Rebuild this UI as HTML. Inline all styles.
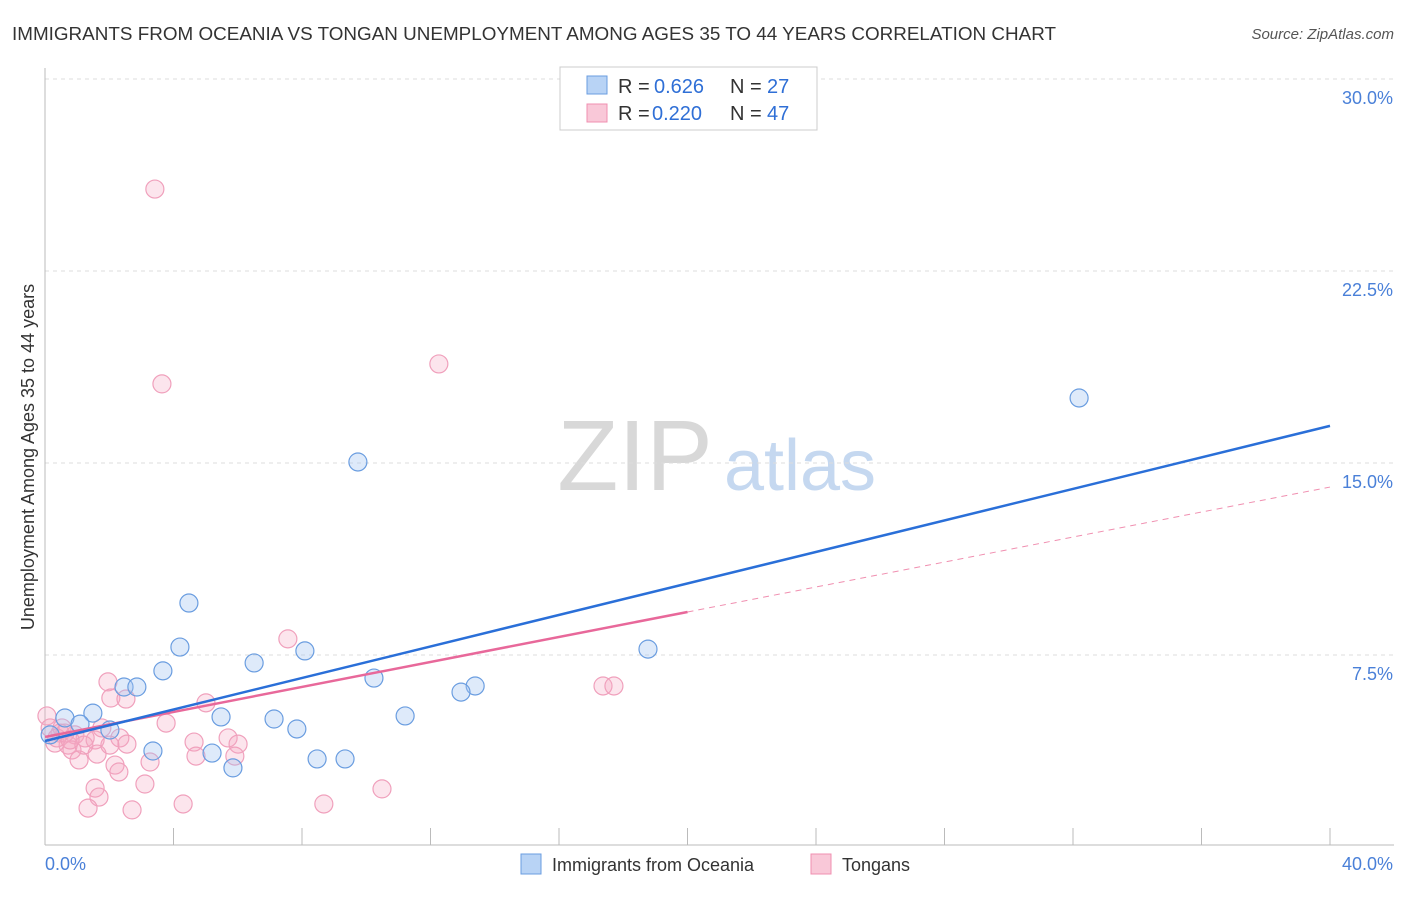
<!DOCTYPE html>
<html><head><meta charset="utf-8"><style>
body{margin:0;background:#fff;font-family:"Liberation Sans",sans-serif;}
svg text{font-family:"Liberation Sans",sans-serif;}
</style></head><body>
<svg id="c" width="1406" height="892">
<text x="12" y="40" font-size="18" fill="#333" textLength="1044" lengthAdjust="spacingAndGlyphs">IMMIGRANTS FROM OCEANIA VS TONGAN UNEMPLOYMENT AMONG AGES 35 TO 44 YEARS CORRELATION CHART</text>
<text x="1394" y="39" font-size="15" fill="#555" font-style="italic" text-anchor="end">Source: ZipAtlas.com</text>
<text x="635" y="490" font-size="100" fill="#d8d8d8" font-family="Liberation Serif" text-anchor="middle">ZIP</text>
<text x="800" y="490" font-size="72" fill="#c5d8f0" text-anchor="middle">atlas</text>
<text transform="translate(34,457) rotate(-90)" font-size="18" fill="#333" text-anchor="middle">Unemployment Among Ages 35 to 44 years</text>
<g id="grid"></g><g id="marks"></g>
<g>
<rect x="560" y="67" width="257" height="63" fill="#fff" stroke="#ccc"/>
<rect x="587" y="76" width="20" height="18" fill="#b8d3f5" stroke="#6a9de0"/>
<rect x="587" y="104" width="20" height="18" fill="#f9c8d8" stroke="#f08fb0"/>
<text x="618" y="93" font-size="20" fill="#333">R = </text><text x="654" y="93" font-size="20" fill="#2f6fd6">0.626</text>
<text x="730" y="93" font-size="20" fill="#333">N = </text><text x="767" y="93" font-size="20" fill="#2f6fd6">27</text>
<text x="618" y="120" font-size="20" fill="#333">R = </text><text x="652" y="120" font-size="20" fill="#2f6fd6">0.220</text>
<text x="730" y="120" font-size="20" fill="#333">N = </text><text x="767" y="120" font-size="20" fill="#2f6fd6">47</text>
</g>
<g>
<rect x="521" y="854" width="20" height="20" fill="#b8d3f5" stroke="#6a9de0"/>
<text x="552" y="871" font-size="18" fill="#333">Immigrants from Oceania</text>
<rect x="811" y="854" width="20" height="20" fill="#f9c8d8" stroke="#f08fb0"/>
<text x="842" y="871" font-size="18" fill="#333">Tongans</text>
</g>
</svg>
<script>
const yTicks=[7.5,15,22.5,30];
const yTickLabels=["7.5%","15.0%","22.5%","30.0%"];
const xEndLabels=["0.0%","40.0%"];
const blueX=[32.19,9.74,4.48,4.20,8.09,3.67,6.51,18.77,10.24,13.39,12.95,2.46,2.86,1.49,0.62,1.09,2.02,5.48,7.13,7.84,11.21,3.36,5.20,5.85,8.47,9.34,0.16];
const blueY=[17.54,15.04,9.53,7.81,7.66,6.88,7.19,7.73,6.60,6.29,6.05,6.25,6.25,5.23,5.04,4.80,4.57,5.08,5.00,4.61,5.12,3.75,3.67,3.09,3.44,3.44,4.38];
const pinkX=[3.42,3.64,12.26,7.56,1.96,2.05,2.52,5.01,3.77,17.37,17.71,0.06,0.16,0.47,0.93,1.25,1.77,1.56,0.72,0.84,1.06,1.62,2.33,2.55,4.64,5.70,6.01,4.70,5.91,2.18,3.27,2.30,3.11,1.56,1.68,1.34,2.71,4.30,8.68,10.49,0.31,0.53,0.37,1.21,0.62,2.02,0.78];
const pinkY=[25.70,18.09,18.87,8.13,6.45,5.82,5.78,5.63,4.84,6.29,6.29,5.12,4.65,4.45,4.38,4.26,4.65,4.18,3.98,3.79,3.40,3.63,4.26,4.02,4.10,4.26,4.02,3.55,3.55,3.20,3.32,2.93,2.46,2.30,1.95,1.52,1.45,1.68,1.68,2.27,4.06,4.65,4.26,3.98,4.45,3.98,4.18];
const blueLine=[4.14,16.45];
const pinkLine=[4.30,14.06];
const pinkSolidEnd=20;
const X=v=>45+v*1285/40, Y=v=>847-v*25.6;
const NS="http://www.w3.org/2000/svg";
const grid=document.getElementById('grid'), marks=document.getElementById('marks');
function mk(tag,attrs,parent){const e=document.createElementNS(NS,tag);for(const k in attrs)e.setAttribute(k,attrs[k]);parent.appendChild(e);return e;}
yTicks.forEach((t,i)=>{
 const l=mk('line',{x1:45,x2:1394,y1:Y(t),y2:Y(t),stroke:'#ddd','stroke-dasharray':'4,4'},grid);
 
 
 const tx=mk('text',{x:1393,y:Y(t)+25,'font-size':18,fill:'#4a80d8','text-anchor':'end'},grid);
 tx.textContent=yTickLabels[i];
 
 
});
const ax=mk('line',{x1:45,x2:1394,y1:845,y2:845,stroke:'#bbb'},grid);


const ay=mk('line',{x1:45,x2:45,y1:68,y2:845,stroke:'#bbb'},grid);


for(let v=0;v<=40;v+=4){
 const t=mk('line',{x1:X(v),x2:X(v),y1:828,y2:845,stroke:'#bbb'},grid);
 
 
}
[[0,45,'start'],[40,1393,'end']].forEach((d,i)=>{
 const t=mk('text',{x:d[1],y:870,'font-size':18,fill:'#4a80d8','text-anchor':d[2]},grid);
 t.textContent=xEndLabels[i];
 
 
});
pinkX.forEach((x,i)=>{
 const c=mk('circle',{cx:X(x),cy:Y(pinkY[i]),r:9,fill:'rgba(245,170,195,0.3)',stroke:'#f0a0bc','stroke-width':1.2},marks);
 
 
});
blueX.forEach((x,i)=>{
 const c=mk('circle',{cx:X(x),cy:Y(blueY[i]),r:9,fill:'rgba(160,196,240,0.35)',stroke:'#6a9de0','stroke-width':1.2},marks);
 
 
});
const py=x=>pinkLine[0]+(pinkLine[1]-pinkLine[0])*x/40;
const pd=mk('line',{x1:X(pinkSolidEnd),y1:Y(py(pinkSolidEnd)),x2:X(40),y2:Y(pinkLine[1]),stroke:'#f08fb0','stroke-width':1,'stroke-dasharray':'6,5'},marks);


const ps=mk('line',{x1:X(0),y1:Y(pinkLine[0]),x2:X(pinkSolidEnd),y2:Y(py(pinkSolidEnd)),stroke:'#e8689a','stroke-width':2.5},marks);


const bl=mk('line',{x1:X(0),y1:Y(blueLine[0]),x2:X(40),y2:Y(blueLine[1]),stroke:'#2a6fd8','stroke-width':2.5},marks);


</script>
</body></html>
